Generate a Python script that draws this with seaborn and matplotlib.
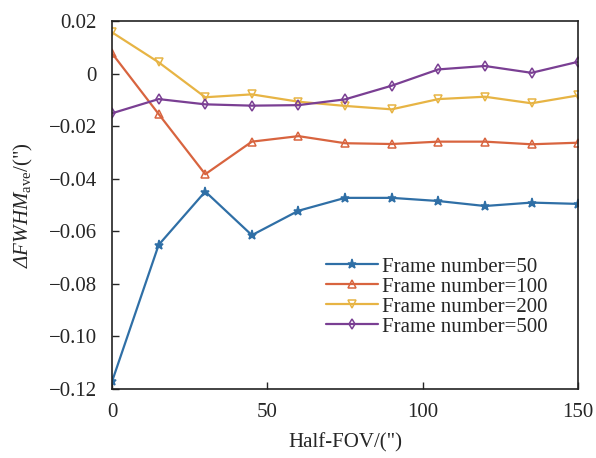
import matplotlib
matplotlib.use("Agg")
import matplotlib.pyplot as plt
import pandas as pd
import seaborn as sns

# half field of view (arcsec)
half_fov = [0, 15, 30, 45, 60, 75, 90, 105, 120, 135, 150]

frame_50 = [-0.1172, -0.0652, -0.0449, -0.0615, -0.0522, -0.0473, -0.0473, -0.0485, -0.0504, -0.0491, -0.0496]
frame_100 = [0.0077, -0.0154, -0.0383, -0.0259, -0.0238, -0.0265, -0.0268, -0.0259, -0.0259, -0.0269, -0.0263]
frame_200 = [0.0157, 0.0043, -0.0090, -0.0079, -0.0107, -0.0123, -0.0136, -0.0097, -0.0088, -0.0113, -0.0083]
frame_500 = [-0.0151, -0.0097, -0.0117, -0.0122, -0.0120, -0.0098, -0.0046, 0.0016, 0.0029, 0.0003, 0.0045]

labels = ["Frame number=50", "Frame number=100", "Frame number=200", "Frame number=500"]
colors = ["#2f6fa6", "#d8643f", "#e7b444", "#7a3f93"]
markers = ["*", "^", "v", "d"]

df = pd.DataFrame({"fov": half_fov * 4,
                   "dfwhm": frame_50 + frame_100 + frame_200 + frame_500,
                   "series": [l for l in labels for _ in half_fov]})

sns.set_style("ticks")
plt.rcParams["font.family"] = ["Liberation Serif", "DejaVu Serif"]
plt.rcParams["mathtext.fontset"] = "custom"
plt.rcParams["mathtext.rm"] = "Liberation Serif"
plt.rcParams["mathtext.it"] = "Liberation Serif:italic"
# italic greek capital needs a non-'it' slot in mathtext
plt.rcParams["mathtext.sf"] = "Liberation Serif:italic"

fig = plt.figure(figsize=(5.96, 4.58), dpi=100)
ax = fig.add_axes([0.188, 0.151, 0.782, 0.803])

for lab, c, m in zip(labels, colors, markers):
    sub = df[df["series"] == lab]
    filled = m == "*"
    sns.lineplot(data=sub, x="fov", y="dfwhm", ax=ax, color=c, lw=1.6,
                 marker=m, markersize=6.5 if filled else 5.5,
                 markerfacecolor=c if filled else "none",
                 markeredgecolor=c, markeredgewidth=1.1, label=lab)

ax.set_xlim(0, 150)
ax.set_ylim(-0.12, 0.02)
ax.set_xticks([0, 50, 100, 150])
ax.set_yticks([-0.12, -0.10, -0.08, -0.06, -0.04, -0.02, 0, 0.02])
ax.set_yticklabels(["\u22120.12", "\u22120.10", "\u22120.08", "\u22120.06",
                    "\u22120.04", "\u22120.02", "0", "0.02"])
ax.tick_params(direction="in", labelsize=15, length=5, width=1,
               top=False, right=False)
ax.tick_params(axis="x", pad=10)
ax.tick_params(axis="y", pad=11)
for s in ax.spines.values():
    s.set_visible(True)
    s.set_linewidth(1.2)
    s.set_color("#222222")

ax.set_xlabel("Half-FOV/(\")", fontsize=15, labelpad=8)
ax.set_ylabel("$\\mathsf{\u0394FWHM}_{\\mathrm{ave}}$/(\")", fontsize=15, labelpad=10)

ax.legend(loc="center right", bbox_to_anchor=(0.935, 0.25), frameon=False,
          fontsize=15, handlelength=2.5, handletextpad=0.2,
          labelspacing=0.02, borderaxespad=0, borderpad=0)

fig.savefig("out.png", dpi=100)
